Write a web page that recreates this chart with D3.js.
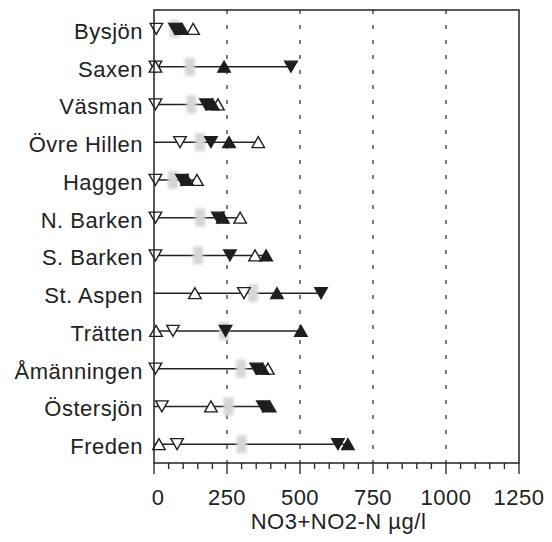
<!DOCTYPE html>
<html>
<head>
<meta charset="utf-8">
<script src="https://cdn.jsdelivr.net/npm/d3@7"></script>
<style>
  html, body { margin: 0; padding: 0; background: #fff; }
  svg { display: block; }
  text { font-family: "Liberation Sans", Arial, Helvetica, sans-serif; fill: #222; letter-spacing: 0.5px; }
</style>
</head>
<body>
<svg id="chart" width="552" height="542"></svg>
<script>
// Lakes, top to bottom
const lakes = ["Bysjön", "Saxen", "Väsman", "Övre Hillen", "Haggen", "N. Barken",
               "S. Barken", "St. Aspen", "Trätten", "Åmänningen", "Östersjön", "Freden"];

// NO3+NO2-N (µg/l), one value per lake for each marker type
const openDown   = [8, 5, 5, 89, 5, 5, 5, 308, 65, 5, 27, 79];
const filledDown = [72, 469, 178, 195, 96, 219, 260, 572, 245, 350, 373, 630];
const openUp     = [134, 5, 219, 357, 147, 295, 346, 140, 7, 390, 195, 17];
const filledUp   = [96, 240, 201, 257, 113, 236, 384, 421, 503, 372, 396, 664];
const greyMark   = [70, 123, 128, 158, 65, 158, 151, 339, 240, 298, 255, 300];

// Extent of the horizontal range line for each lake (0 = no line)
const rangeEnd   = [0, 469, 219, 357, 147, 295, 384, 572, 503, 390, 396, 664];

const xTicks = [0, 250, 500, 750, 1000, 1250];
const xTitle = "NO3+NO2-N µg/l";

const svg = d3.select("#chart");
const plotL = 154, plotR = 519, plotT = 10, plotB = 463;

const x = d3.scaleLinear().domain([0, 1250]).range([plotL, plotR]);
const y = d3.scalePoint().domain(lakes).range([plotT, plotB]).padding(0.5);

const defs = svg.append("defs");
defs.append("filter").attr("id", "soft")
  .attr("x", "-50%").attr("y", "-50%").attr("width", "200%").attr("height", "200%")
  .append("feGaussianBlur").attr("stdDeviation", 1.4);

// dashed reference lines
svg.append("g").selectAll("line")
  .data(xTicks.filter(d => d > 0 && d < 1250))
  .join("line")
  .attr("x1", d => x(d)).attr("x2", d => x(d))
  .attr("y1", plotT).attr("y2", plotB)
  .attr("stroke", "#333").attr("stroke-width", 1.3)
  .attr("stroke-dasharray", "4,11");

// minor ticks every 50, major every 250
const minor = d3.range(0, 1251, 50);
svg.append("g").selectAll("line")
  .data(minor)
  .join("line")
  .attr("x1", d => x(d)).attr("x2", d => x(d))
  .attr("y1", plotB).attr("y2", d => plotB + (d % 250 === 0 ? 11 : 6))
  .attr("stroke", "#222").attr("stroke-width", 1.3);

// tick labels
svg.append("g").selectAll("text")
  .data(xTicks)
  .join("text")
  .attr("x", d => x(d) + (d === 0 ? 4 : 0))
  .attr("y", 505)
  .attr("text-anchor", "middle")
  .attr("font-size", 22)
  .text(d => d);

svg.append("text")
  .attr("x", (plotL + plotR) / 2 + 2)
  .attr("y", 529)
  .attr("text-anchor", "middle")
  .attr("font-size", 22)
  .text(xTitle);

// lake labels
svg.append("g").selectAll("text")
  .data(lakes)
  .join("text")
  .attr("x", 143)
  .attr("y", d => y(d) + 10)
  .attr("text-anchor", "end")
  .attr("font-size", 22)
  .text(d => d);

// range lines
svg.append("g").selectAll("line")
  .data(lakes.map((l, i) => ({ l, v: rangeEnd[i] })).filter(d => d.v > 0))
  .join("line")
  .attr("x1", x(0)).attr("x2", d => x(d.v))
  .attr("y1", d => y(d.l)).attr("y2", d => y(d.l))
  .attr("stroke", "#222").attr("stroke-width", 1.5);

// grey markers
svg.append("g").attr("filter", "url(#soft)").selectAll("rect")
  .data(lakes.map((l, i) => ({ l, v: greyMark[i] })))
  .join("rect")
  .attr("x", d => x(d.v) - 5).attr("y", d => y(d.l) - 9)
  .attr("width", 10).attr("height", 18)
  .attr("fill", "#d6d6d6");

function tri(down, w, h) {
  return down
    ? `M${-w/2},${-h/2}L${w/2},${-h/2}L0,${h/2}Z`
    : `M${-w/2},${h/2}L${w/2},${h/2}L0,${-h/2}Z`;
}

function drawSeries(vals, down, filled) {
  svg.append("g").selectAll("path")
    .data(lakes.map((l, i) => ({ l, v: vals[i] })))
    .join("path")
    .attr("transform", d => `translate(${x(d.v)},${y(d.l)})`)
    .attr("d", tri(down, 12.5, 11))
    .attr("fill", filled ? "#1e1e1e" : "#fff")
    .attr("stroke", "#1e1e1e")
    .attr("stroke-width", 1.4)
    .attr("stroke-linejoin", "miter");
}

drawSeries(openDown, true, false);
drawSeries(openUp, false, false);
drawSeries(filledDown, true, true);
drawSeries(filledUp, false, true);

// frame
svg.append("rect")
  .attr("x", plotL).attr("y", plotT)
  .attr("width", plotR - plotL).attr("height", plotB - plotT)
  .attr("fill", "none").attr("stroke", "#222").attr("stroke-width", 1.5);
</script>
</body>
</html>
